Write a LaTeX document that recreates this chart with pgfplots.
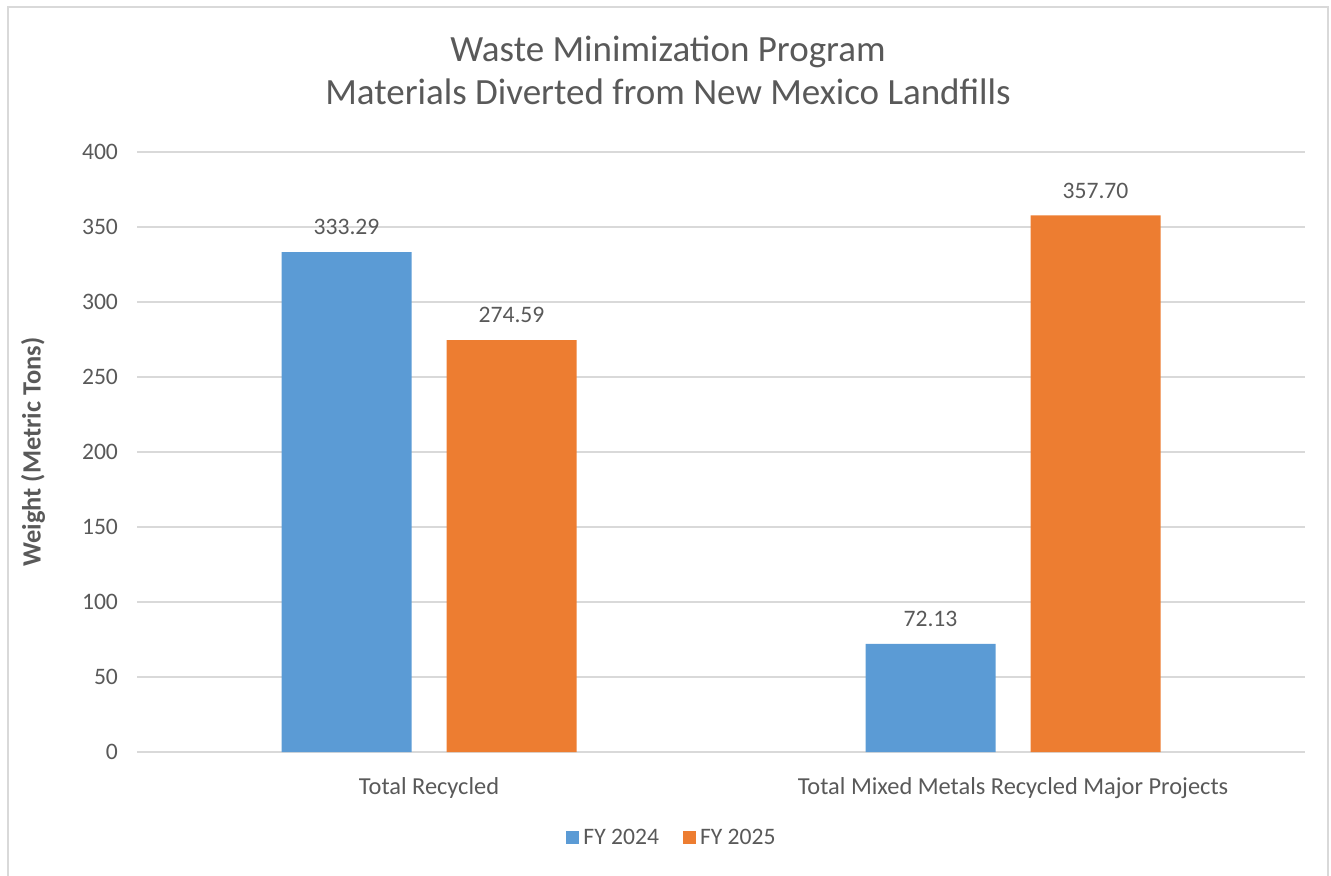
\documentclass[border=0pt]{standalone}
\usepackage{fontspec}
\setmainfont{Carlito}
\usepackage{pgfplots}
\pgfplotsset{compat=1.18}
\definecolor{txt}{HTML}{595959}
\definecolor{gridc}{HTML}{D9D9D9}
\definecolor{fyblue}{HTML}{5B9BD5}
\definecolor{fyorange}{HTML}{ED7D31}
\begin{document}
\begin{tikzpicture}
\useasboundingbox (0,0) rectangle (665.5pt,437.5pt);
\draw[gridc, line width=0.8pt] (4pt,-2pt) -- (4pt,434pt) -- (664pt,434pt) -- (664pt,-2pt);
\begin{axis}[
  at={(68.5pt,61.5pt)}, anchor=south west,
  scale only axis, width=584pt, height=300pt,
  /pgf/number format/assume math mode=true,
  ybar=17.5pt, bar width=65pt,
  xmin=-0.5, xmax=1.5, ymin=0, ymax=400,
  ytick={0,50,...,400},
  xtick={0,1},
  xticklabels={Total Recycled, Total Mixed Metals Recycled Major Projects},
  axis line style={draw=none},
  ymajorgrids, xmajorgrids=false, grid style={draw=gridc, line width=0.6pt},
  major tick length=0pt,
  tick label style={font=\fontsize{11.8}{14}\selectfont, text=txt},
  yticklabel style={xshift=-6pt},
  xticklabel style={yshift=-9pt, font=\fontsize{12.2}{14}\selectfont},
  ylabel={Weight (Metric Tons)},
  ylabel style={at={(axis description cs:-0.089,0.5)}, anchor=center, rotate=0, font=\fontsize{13.2}{15}\selectfont\bfseries, text=txt},
  title={Waste Minimization Program\\Materials Diverted from New Mexico Landfills},
  title style={at={(axis description cs:0.5,1)}, anchor=center, xshift=-26.5pt, yshift=35pt, align=center, font=\fontsize{18.5}{21.5}\selectfont, text=txt},
  nodes near coords,
  nodes near coords style={font=\fontsize{11.8}{14}\selectfont, text=txt, anchor=south, yshift=5pt, /pgf/number format/.cd, fixed, fixed zerofill, precision=2},
  legend columns=2,
  legend style={draw=none, at={(axis description cs:0.5,0)}, anchor=center, xshift=-24pt, yshift=-43pt, font=\fontsize{11.8}{14}\selectfont, text=txt, /tikz/every even column/.append style={column sep=10pt}},
  legend image code/.code={\fill[#1] (0pt,-3pt) rectangle (6.5pt,3.5pt);},
  every axis plot/.append style={draw=none},
]
\addplot[fill=fyblue] coordinates {(0,333.29) (1,72.13)};
\addplot[fill=fyorange] coordinates {(0,274.59) (1,357.70)};
\legend{FY 2024, FY 2025}
\end{axis}
\end{tikzpicture}
\end{document}
